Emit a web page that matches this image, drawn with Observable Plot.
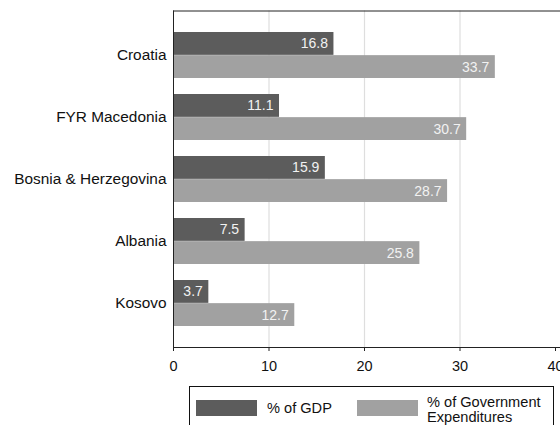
<!DOCTYPE html>
<html><head><meta charset="utf-8">
<script src="https://cdn.jsdelivr.net/npm/d3@7"></script>
<script src="https://cdn.jsdelivr.net/npm/@observablehq/plot@0.6"></script>
<style>
body{margin:0;background:#fff;font-family:"Liberation Sans",Arial,sans-serif;}
#wrap{position:relative;width:560px;height:425px;overflow:hidden;}
#legend{position:absolute;left:189px;top:386px;width:365px;height:50px;border:1px solid #111;box-sizing:border-box;font-size:14.6px;color:#111;}
#legend .sw{position:absolute;top:13px;width:61px;height:16px;}
#legend .lb{position:absolute;line-height:14.5px;white-space:nowrap;}
</style></head><body><div id="wrap"><div id="chart"></div><div id="legend"></div></div>
<script>
const countries = ["Croatia", "FYR Macedonia", "Bosnia & Herzegovina", "Albania", "Kosovo"];
const gdp = [16.8, 11.1, 15.9, 7.5, 3.7];
const govExp = [33.7, 30.7, 28.7, 25.8, 12.7];
const seriesNames = ["% of GDP", "% of Government Expenditures"];
const seriesColors = ["#5c5c5c", "#a1a1a1"];
const xTicks = [0, 10, 20, 30, 40];
const gridTicks = [10, 20, 30];

const gdpRows = countries.map((c, i) => ({country: c, value: gdp[i]}));
const govRows = countries.map((c, i) => ({country: c, value: govExp[i]}));
const half = 23.15;

const plot = Plot.plot({
  width: 560,
  height: 384,
  marginLeft: 173,
  marginRight: 0,
  marginTop: 10.5,
  marginBottom: 37,
  style: {fontFamily: '"Liberation Sans", Arial, sans-serif', fontSize: "14px", color: "#111", background: "#fff"},
  x: {domain: [0, 40], range: [173, 555]},
  y: {type: "band", domain: countries, range: [10.5, 347], paddingInner: 0.256, paddingOuter: 0.331},
  marks: [
    Plot.ruleX(gridTicks, {stroke: "#dedede", strokeWidth: 1.2}),
    Plot.barX(gdpRows, {x: "value", y: "country", fill: seriesColors[0], insetBottom: half}),
    Plot.barX(govRows, {x: "value", y: "country", fill: seriesColors[1], insetTop: half}),
    Plot.text(gdpRows, {x: "value", y: "country", text: d => d.value.toFixed(1), textAnchor: "end", dx: -6, dy: -half / 2, fill: "#f2f2f2", fontSize: 14}),
    Plot.text(govRows, {x: "value", y: "country", text: d => d.value.toFixed(1), textAnchor: "end", dx: -6, dy: half / 2, fill: "#f2f2f2", fontSize: 14}),
    Plot.frame({anchor: "top", stroke: "#222"}),
    Plot.frame({anchor: "left", stroke: "#222"}),
    Plot.frame({anchor: "bottom", stroke: "#222"}),
    Plot.axisX(xTicks, {anchor: "bottom", tickSize: 4, tickPadding: 9, stroke: "#222", fontSize: 14.5, label: null}),
    Plot.axisY({anchor: "left", tickSize: 0, tickPadding: 7, fontSize: 15.4, label: null})
  ]
});
document.getElementById("chart").appendChild(plot);

const legend = document.getElementById("legend");
legend.innerHTML =
  `<div class="sw" style="left:6px;background:${seriesColors[0]}"></div>` +
  `<div class="lb" style="left:77px;top:14px">${seriesNames[0]}</div>` +
  `<div class="sw" style="left:167px;background:${seriesColors[1]}"></div>` +
  `<div class="lb" style="left:237px;top:8px">% of Government<br>Expenditures</div>`;
</script>
</body></html>
